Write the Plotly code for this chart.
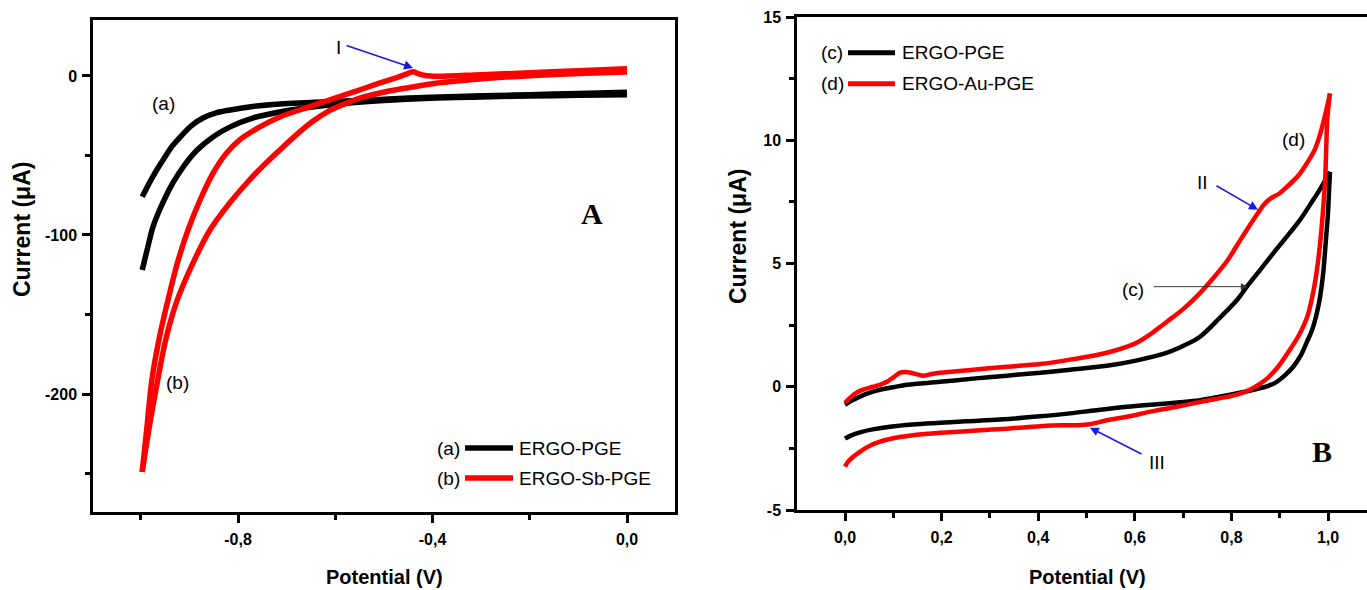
import plotly.graph_objects as go

# ---------------- Panel A data (Potential V, Current uA) ----------------
a_fwd_x = [-0.997, -0.98, -0.965, -0.954, -0.935, -0.919, -0.895, -0.872, -0.845, -0.816, -0.77, -0.714,
           -0.66, -0.611, -0.5, -0.405, -0.3, -0.2, -0.1, 0.0]
a_fwd_y = [-76.0, -66.0, -58.0, -52.8, -44.0, -38.4, -31.0, -26.4, -23.2, -21.4, -19.2, -17.6,
           -16.8, -16.2, -14.6, -13.4, -12.5, -11.8, -11.0, -10.3]
a_rev_x = [0.0, -0.1, -0.2, -0.3, -0.405, -0.5, -0.611, -0.66, -0.714, -0.77, -0.816, -0.85, -0.884,
           -0.91, -0.934, -0.955, -0.975, -0.985, -0.997]
a_rev_y = [-11.8, -12.2, -12.6, -13.2, -14.0, -15.5, -18.2, -20.0, -22.6, -26.5, -32.0, -38.0, -46.5,
           -56.0, -67.3, -80.0, -95.0, -107.0, -122.0]

b_fwd_x = [0.0, -0.1, -0.2, -0.3, -0.39, -0.45, -0.508, -0.545, -0.576, -0.61, -0.646, -0.68, -0.714,
           -0.75, -0.781, -0.82, -0.858, -0.89, -0.925, -0.948, -0.965, -0.982, -0.997]
b_fwd_y = [2.5, 1.5, 0.2, -1.8, -4.4, -7.4, -10.7, -13.5, -17.0, -21.5, -28.5, -37.0, -46.5,
           -57.0, -67.0, -81.0, -97.0, -116.0, -141.0, -165.0, -191.0, -220.0, -249.0]
b_rev_x = [-0.997, -0.987, -0.977, -0.962, -0.944, -0.925, -0.903, -0.878, -0.851, -0.825, -0.796,
           -0.755, -0.714, -0.66, -0.611, -0.56, -0.508, -0.475, -0.455, -0.44, -0.43, -0.415,
           -0.39, -0.3, -0.2, -0.1, 0.0]
b_rev_y = [-249.0, -220.0, -191.0, -165.0, -141.0, -118.0, -97.0, -78.0, -61.0, -49.0, -40.0,
           -32.0, -25.8, -20.0, -15.0, -9.8, -4.4, -1.2, 1.0, 2.6, 1.5, 0.3,
           -0.2, 0.8, 2.0, 3.3, 4.6]

# ---------------- Panel B data ----------------
c_fwd_x = [0.0, 0.015, 0.031, 0.05, 0.072, 0.1, 0.128, 0.197, 0.265, 0.335, 0.404, 0.466, 0.542, 0.6,
           0.667, 0.705, 0.735, 0.776, 0.812, 0.832, 0.86, 0.886, 0.915, 0.942, 0.965, 0.983, 1.004]
c_fwd_y = [-0.73, -0.55, -0.40, -0.25, -0.12, -0.02, 0.08, 0.20, 0.33, 0.45, 0.57, 0.69, 0.85, 1.05,
           1.38, 1.70, 2.03, 2.80, 3.53, 4.06, 4.75, 5.40, 6.10, 6.77, 7.45, 8.00, 8.72]
c_rev_x = [1.004, 1.002, 1.0, 0.995, 0.99, 0.984, 0.977, 0.967, 0.957, 0.943, 0.928, 0.91, 0.894,
           0.875, 0.85, 0.818, 0.77, 0.72, 0.65, 0.584, 0.52, 0.466, 0.404, 0.321, 0.25, 0.197, 0.14,
           0.093, 0.06, 0.031, 0.012, 0.0]
c_rev_y = [8.72, 7.90, 7.06, 5.80, 4.60, 3.70, 3.00, 2.30, 1.85, 1.25, 0.81, 0.45, 0.20,
           0.03, -0.10, -0.24, -0.42, -0.58, -0.70, -0.81, -0.95, -1.08, -1.20, -1.33, -1.40, -1.46, -1.53,
           -1.62, -1.72, -1.85, -1.98, -2.10]

d_fwd_x = [0.0, 0.012, 0.024, 0.04, 0.058, 0.075, 0.087, 0.1, 0.114, 0.125, 0.14, 0.162, 0.18, 0.197,
           0.265, 0.335, 0.404, 0.466, 0.542, 0.6, 0.63, 0.667, 0.7, 0.73, 0.76, 0.791,
           0.812, 0.832, 0.855, 0.868, 0.88, 0.9, 0.915, 0.94, 0.957, 0.972, 0.983, 0.995, 1.004]
d_fwd_y = [-0.65, -0.42, -0.24, -0.10, 0.0, 0.10, 0.20, 0.38, 0.57, 0.60, 0.55, 0.45, 0.52, 0.57,
           0.69, 0.81, 0.92, 1.10, 1.38, 1.75, 2.10, 2.65, 3.15, 3.70, 4.35, 5.10,
           5.75, 6.37, 7.05, 7.40, 7.62, 7.85, 8.11, 8.60, 9.09, 9.60, 10.20, 11.10, 11.90]
d_rev_x = [1.004, 1.0, 0.998, 0.996, 0.994, 0.989, 0.983, 0.976, 0.969, 0.957, 0.94, 0.921, 0.9,
           0.886, 0.875, 0.859, 0.84, 0.818, 0.791, 0.74, 0.687, 0.635, 0.584, 0.542, 0.507, 0.48,
           0.445, 0.404, 0.335, 0.265, 0.197, 0.14, 0.093, 0.065, 0.046, 0.03, 0.017, 0.006, 0.0]
d_rev_y = [11.90, 11.20, 10.70, 9.50, 8.40, 7.00, 5.70, 4.60, 3.80, 2.84, 2.10, 1.50, 0.90,
           0.57, 0.35, 0.12, -0.10, -0.28, -0.41, -0.60, -0.81, -1.00, -1.22, -1.36, -1.52, -1.56,
           -1.56, -1.60, -1.70, -1.78, -1.87, -1.97, -2.12, -2.28, -2.45, -2.65, -2.84, -3.05, -3.24]

# tick labels
a_xticks = [-0.8, -0.4, 0.0]
a_xticklabels = ["-0,8", "-0,4", "0,0"]
a_xminor = [-1.0, -0.6, -0.2]
a_yticks = [0, -100, -200]
a_yticklabels = ["0", "-100", "-200"]
a_yminor = [-50, -150, -250]

b_xticks = [0.0, 0.2, 0.4, 0.6, 0.8, 1.0]
b_xticklabels = ["0,0", "0,2", "0,4", "0,6", "0,8", "1,0"]
b_xminor = [0.1, 0.3, 0.5, 0.7, 0.9]
b_yticks = [-5, 0, 5, 10, 15]
b_yticklabels = ["-5", "0", "5", "10", "15"]
b_yminor = [-2.5, 2.5, 7.5, 12.5]

legend_a = ["ERGO-PGE", "ERGO-Sb-PGE"]
legend_b = ["ERGO-PGE", "ERGO-Au-PGE"]

W, H = 1367, 590
BLACK = "#000000"
RED = "#ff0000"
BLUE = "#1a1adb"
SANS = "Liberation Sans, Arial, sans-serif"
SERIF = "Liberation Serif, Times New Roman, serif"

fig = go.Figure()

def add(x, y, color, width, xa, ya):
    fig.add_trace(go.Scatter(x=x, y=y, mode="lines", xaxis=xa, yaxis=ya,
                             line=dict(color=color, width=width, shape="spline", smoothing=1.0),
                             showlegend=False, hoverinfo="skip"))

add(a_fwd_x, a_fwd_y, BLACK, 5.5, "x", "y")
add(a_rev_x, a_rev_y, BLACK, 5.5, "x", "y")
add(b_fwd_x, b_fwd_y, RED, 5.5, "x", "y")
add(b_rev_x, b_rev_y, RED, 5.5, "x", "y")
add(c_fwd_x, c_fwd_y, BLACK, 4.5, "x2", "y2")
add(c_rev_x, c_rev_y, BLACK, 4.5, "x2", "y2")
add(d_fwd_x, d_fwd_y, RED, 4.5, "x2", "y2")
add(d_rev_x, d_rev_y, RED, 4.5, "x2", "y2")

def bold(labels):
    return ["<b>%s</b>" % t for t in labels]

axis_common = dict(showgrid=False, zeroline=False, showline=True, linecolor="black", linewidth=2.5,
                   ticks="outside", ticklen=8, tickwidth=2.5, tickcolor="black",
                   tickfont=dict(family=SANS, size=16, color="black"),
                   automargin=False, fixedrange=True)

def minor(vals):
    return dict(tickvals=vals, ticks="outside", ticklen=5, tickwidth=2.5, tickcolor="black")

fig.update_layout(
    width=W, height=H, margin=dict(l=0, r=0, t=0, b=0),
    paper_bgcolor="white", plot_bgcolor="white", showlegend=False,
    xaxis=dict(axis_common, domain=[93 / W, 675 / W], range=[-1.0982, 0.0987], anchor="y",
               mirror=True, tickvals=a_xticks, ticktext=bold(a_xticklabels), ticklabelstandoff=3,
               minor=minor(a_xminor)),
    yaxis=dict(axis_common, domain=[1 - 512 / H, 1 - 20 / H], range=[-274.2, 35.2], anchor="x",
               mirror=True, tickvals=a_yticks, ticktext=bold(a_yticklabels), ticklabelstandoff=2,
               minor=minor(a_yminor)),
    xaxis2=dict(axis_common, domain=[797 / W, 1.0], range=[-0.0994, 1.0807], anchor="y2",
                mirror=True, tickvals=b_xticks, ticktext=bold(b_xticklabels), ticklabelstandoff=3,
                minor=minor(b_xminor)),
    yaxis2=dict(axis_common, domain=[1 - 510 / H, 1 - 17 / H], range=[-5, 15], anchor="x2",
                mirror=False, tickvals=b_yticks, ticktext=bold(b_yticklabels), ticklabelstandoff=2,
                minor=minor(b_yminor)),
)

def txt(x, y, s, xref, yref, size=19, family=SANS, weight="normal", xanchor="center", angle=0):
    fig.add_annotation(x=x, y=y, text=s, xref=xref, yref=yref, showarrow=False,
                       xanchor=xanchor, yanchor="middle", textangle=angle,
                       font=dict(family=family, size=size, color="black", weight=weight))

def arrow(x0, y0, x1, y1, xref, yref, color, width=1.5, size=1.2):
    fig.add_annotation(x=x1, y=y1, ax=x0, ay=y0, xref=xref, yref=yref, axref=xref, ayref=yref,
                       text="", showarrow=True, arrowhead=2, arrowsize=size, arrowwidth=width,
                       arrowcolor=color, standoff=0, startstandoff=0)

# axis titles
txt(22 / W, 1 - 230 / H, "Current (μA)", "paper", "paper", size=23, weight="bold", angle=-90)
txt(384 / W, 1 - 577 / H, "Potential (V)", "paper", "paper", size=20, weight="bold")
txt(738 / W, 1 - 237 / H, "Current (μA)", "paper", "paper", size=23, weight="bold", angle=-90)
txt(1087 / W, 1 - 577 / H, "Potential (V)", "paper", "paper", size=20, weight="bold")

# Panel A labels
txt(-0.954, -17.0, "(a)", "x", "y")
txt(-0.925, -192.5, "(b)", "x", "y")
txt(-0.594, 18.2, "I", "x", "y")
arrow(-0.580, 19.5, -0.440, 5.0, "x", "y", BLUE)
txt(-0.072, -86.2, "A", "x", "y", size=30, family=SERIF, weight="bold")

# Panel A legend
for i, (lab, col, name) in enumerate([("(a)", BLACK, legend_a[0]), ("(b)", RED, legend_a[1])]):
    yy = (76 - (448 + 30 * i)) / 1.59
    txt((448 - 627) / 486.25, yy, lab, "x", "y")
    fig.add_shape(type="line", xref="x", yref="y", x0=(465 - 627) / 486.25, x1=(513 - 627) / 486.25,
                  y0=yy, y1=yy, line=dict(color=col, width=5.5))
    txt((517 - 627) / 486.25, yy, name, "x", "y", xanchor="left")

# Panel B labels
txt(0.9275, 10.02, "(d)", "x2", "y2")
txt(0.741, 8.28, "II", "x2", "y2")
arrow(0.766, 8.19, 0.855, 7.18, "x2", "y2", BLUE)
txt(0.596, 3.94, "(c)", "x2", "y2")
arrow(0.636, 4.06, 0.834, 4.06, "x2", "y2", "#333333", width=1.0, size=1.4)
txt(0.646, -3.08, "III", "x2", "y2")
arrow(0.617, -2.76, 0.507, -1.66, "x2", "y2", BLUE)
txt(0.988, -2.64, "B", "x2", "y2", size=30, family=SERIF, weight="bold")

# Panel B legend
for i, (lab, col, name) in enumerate([("(c)", BLACK, legend_b[0]), ("(d)", RED, legend_b[1])]):
    yy = (387 - (53 + 31 * i)) / 24.65
    txt((832 - 845) / 483, yy, lab, "x2", "y2")
    fig.add_shape(type="line", xref="x2", yref="y2", x0=(848 - 845) / 483, x1=(895 - 845) / 483,
                  y0=yy, y1=yy, line=dict(color=col, width=5))
    txt((900 - 845) / 483, yy, name, "x2", "y2", xanchor="left")

fig.write_html("out.html")
